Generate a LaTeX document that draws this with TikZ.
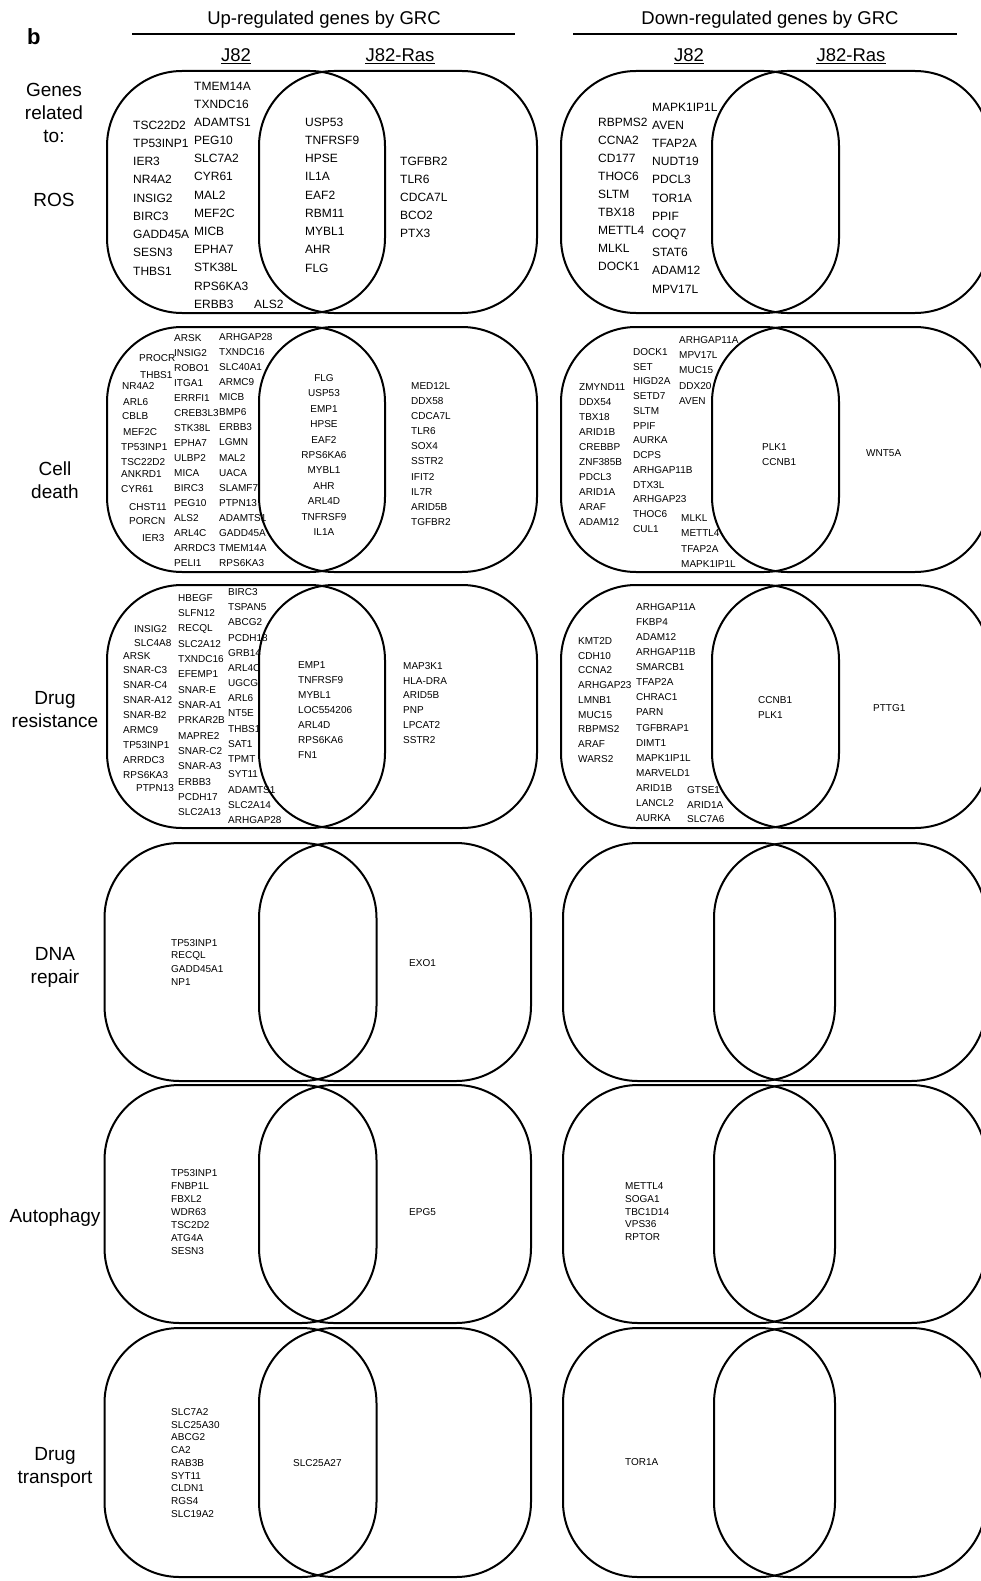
\documentclass[tikz,border=0pt]{standalone}
\usepackage{fontspec}
\setmainfont{Liberation Sans}
\usetikzlibrary{positioning}

\begin{document}
\begin{tikzpicture}[x=1pt,y=-1pt,
  venn/.style={draw,line width=2pt,rounded corners=75pt,inner sep=0pt},
  head/.style={font=\fontsize{18.5}{22}\selectfont,inner sep=0pt,anchor=base},
  side/.style={font=\fontsize{19}{23}\selectfont,align=center,inner sep=0pt},
  gene/.style={anchor=west,inner sep=0pt}]
  \useasboundingbox (0,0) rectangle (981,1581);

  \node[font=\fontsize{22}{22}\selectfont\bfseries,inner sep=0pt,anchor=base west] (panel) at (27,45) {b};
  \node[head] (up-title) at (324,25) {Up-regulated genes by GRC};
  \node[head] (dn-title) at (770,25) {Down-regulated genes by GRC};
  \draw[line width=1.3pt] (132,34) -- (515,34);
  \draw[line width=1.3pt] (573,34) -- (957,34);
  \foreach \n/\x/\t in {up-j82/236/J82,up-ras/400/J82-Ras,dn-j82/689/J82,dn-ras/851/J82-Ras}
  {
    \node[head] (\n) at (\x,62) {\t};
    \draw[line width=1.1pt] ([yshift=-1.6pt]\n.base west) -- ([yshift=-1.6pt]\n.base east);
  }

  \node[side,anchor=north] (lab-genes) at (54,83) {Genes\\related\\to:};
  \node[side] (lab-ros) at (54,200) {ROS};
  \node[side,anchor=north] (lab-death) at (55,462) {Cell\\death};
  \node[side,anchor=north] (lab-resist) at (55,691) {Drug\\resistance};
  \node[side,anchor=north] (lab-dna) at (55,947) {DNA\\repair};
  \node[side,anchor=base] (lab-auto) at (55,1222) {Autophagy};
  \node[side,anchor=north] (lab-trans) at (55,1447) {Drug\\transport};

  \foreach \r/\y/\h/\w/\ua/\ub/\da/\db in {%
    ros/192/242/278/246/398/700/851,
    death/449.5/245/278/246/398/700/851,
    resist/706.5/243/278/246/398/700/851,
    dna/962/238/272/240.5/395/699/850,
    auto/1204/238/272/240.5/395/699/850,
    trans/1452.5/249/272/240.5/395/699/850}
  {
    \node[venn,minimum width=\w,minimum height=\h] (\r-up-j82) at (\ua,\y) {};
    \node[venn,minimum width=\w,minimum height=\h] (\r-up-ras) at (\ub,\y) {};
    \node[venn,minimum width=\w,minimum height=\h] (\r-dn-j82) at (\da,\y) {};
    \node[venn,minimum width=\w,minimum height=\h] (\r-dn-ras) at (\db,\y) {};
  }

  \foreach \x/\y/\dy/\sz/\list [count=\c] in {%
    133/125/18.25/12/{TSC22D2,TP53INP1,IER3,NR4A2,INSIG2,BIRC3,GADD45A,SESN3,THBS1},
    194/86/18.17/12/{TMEM14A,TXNDC16,ADAMTS1,PEG10,SLC7A2,CYR61,MAL2,MEF2C,MICB,EPHA7,STK38L,RPS6KA3,ERBB3},
    254/304/0/12/{ALS2},
    305/122/18.25/12/{USP53,TNFRSF9,HPSE,IL1A,EAF2,RBM11,MYBL1,AHR,FLG},
    400/161/18.2/12/{TGFBR2,TLR6,CDCA7L,BCO2,PTX3},
    598/122/18/12/{RBPMS2,CCNA2,CD177,THOC6,SLTM,TBX18,METTL4,MLKL,DOCK1},
    652/107/18.2/12/{MAPK1IP1L,AVEN,TFAP2A,NUDT19,PDCL3,TOR1A,PPIF,COQ7,STAT6,ADAM12,MPV17L},
    174/338/15/10/{ARSK,INSIG2,ROBO1,ITGA1,ERRFI1,CREB3L3,STK38L,EPHA7,ULBP2,MICA,BIRC3,PEG10,ALS2,ARL4C,ARRDC3,PELI1},
    219/337/15.07/10/{ARHGAP28,TXNDC16,SLC40A1,ARMC9,MICB,BMP6,ERBB3,LGMN,MAL2,UACA,SLAMF7,PTPN13,ADAMTS1,GADD45A,TMEM14A,RPS6KA3},
    411/386/15.1/10/{MED12L,DDX58,CDCA7L,TLR6,SOX4,SSTR2,IFIT2,IL7R,ARID5B,TGFBR2},
    579/387/15/10/{ZMYND11,DDX54,TBX18,ARID1B,CREBBP,ZNF385B,PDCL3,ARID1A,ARAF,ADAM12},
    633/352/14.75/10/{DOCK1,SET,HIGD2A,SETD7,SLTM,PPIF,AURKA,DCPS,ARHGAP11B,DTX3L,ARHGAP23,THOC6,CUL1},
    679/340/15.25/10/{ARHGAP11A,MPV17L,MUC15,DDX20,AVEN},
    681/518/15.3/10/{MLKL,METTL4,TFAP2A,MAPK1IP1L},
    762/447/15/10/{PLK1,CCNB1},
    866/453/0/10/{WNT5A},
    178/598/15.3/10/{HBEGF,SLFN12,RECQL,SLC2A12,TXNDC16,EFEMP1,SNAR-E,SNAR-A1,PRKAR2B,MAPRE2,SNAR-C2,SNAR-A3,ERBB3,PCDH17,SLC2A13},
    228/592/15.2/10/{BIRC3,TSPAN5,ABCG2,PCDH18,GRB14,ARL4C,UGCG,ARL6,NT5E,THBS1,SAT1,TPMT,SYT11,ADAMTS1,SLC2A14,ARHGAP28},
    298/665/15/10/{EMP1,TNFRSF9,MYBL1,LOC554206,ARL4D,RPS6KA6,FN1},
    403/666/14.8/10/{MAP3K1,HLA-DRA,ARID5B,PNP,LPCAT2,SSTR2},
    578/641/14.75/10/{KMT2D,CDH10,CCNA2,ARHGAP23,LMNB1,MUC15,RBPMS2,ARAF,WARS2},
    636/607/15.07/10/{ARHGAP11A,FKBP4,ADAM12,ARHGAP11B,SMARCB1,TFAP2A,CHRAC1,PARN,TGFBRAP1,DIMT1,MAPK1IP1L,MARVELD1,ARID1B,LANCL2,AURKA},
    687/790/14.6/10/{GTSE1,ARID1A,SLC7A6},
    758/700/15/10/{CCNB1,PLK1},
    873/708/0/10/{PTTG1},
    171/943/13/10/{TP53INP1,RECQL,GADD45A1,NP1},
    409/963/0/10/{EXO1},
    171/1173/13/10/{TP53INP1,FNBP1L,FBXL2,WDR63,TSC2D2,ATG4A,SESN3},
    409/1212/0/10/{EPG5},
    625/1186/12.8/10/{METTL4,SOGA1,TBC1D14,VPS36,RPTOR},
    171/1412/12.75/10/{SLC7A2,SLC25A30,ABCG2,CA2,RAB3B,SYT11,CLDN1,RGS4,SLC19A2},
    293/1463/0/10/{SLC25A27},
    625/1462/0/10/{TOR1A}}
  {
    \foreach \g [count=\k from 0] in \list
      \node[gene,font={\fontsize{\sz}{\sz}\selectfont}] (col\c-\k) at (\x,\y+\k*\dy) {\g};
  }

  \foreach \x/\y/\g [count=\k] in {%
    139/358/PROCR,140/375/THBS1,122/386/NR4A2,123/402/ARL6,122/416/CBLB,
    123/432/MEF2C,121/447/TP53INP1,121/462/TSC22D2,121/474/ANKRD1,121/489/CYR61,
    129/507/CHST11,129/521/PORCN,142/538/IER3,
    134/629/INSIG2,134/643/SLC4A8,123/656/ARSK,123/670/SNAR-C3,123/685/SNAR-C4,
    123/700/SNAR-A12,123/715/SNAR-B2,123/730/ARMC9,123/745/TP53INP1,123/760/ARRDC3,
    123/775/RPS6KA3,136/788/PTPN13}
    \node[gene,font={\fontsize{10}{10}\selectfont}] (odd\k) at (\x,\y) {\g};

  \foreach \g [count=\k from 0] in {FLG,USP53,EMP1,HPSE,EAF2,RPS6KA6,MYBL1,AHR,ARL4D,TNFRSF9,IL1A}
    \node[gene,anchor=center,font={\fontsize{10}{10}\selectfont}] (mid\k) at (324,378+\k*15.4) {\g};
\end{tikzpicture}
\end{document}
